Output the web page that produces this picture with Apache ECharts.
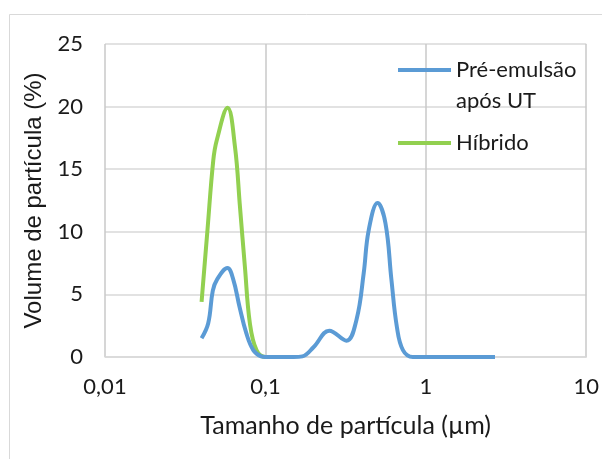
<!DOCTYPE html>
<html>
<head>
<meta charset="utf-8">
<script src="https://cdn.jsdelivr.net/npm/echarts@6/dist/echarts.min.js"></script>
<style>
  html, body { margin: 0; padding: 0; background: #fff; }
  #chart { width: 602px; height: 459px; }
</style>
</head>
<body>
<div id="chart"></div>
<script>
// Particle size distributions (size in µm, volume in %)
const seriesNames = ['Pré-emulsão após UT', 'Híbrido'];
const preEmulsaoSize = [0.040, 0.044, 0.047, 0.050, 0.058, 0.063, 0.069, 0.076, 0.084, 0.094, 0.10, 0.12, 0.15, 0.17, 0.20, 0.25, 0.32, 0.37, 0.41, 0.44, 0.50, 0.56, 0.61, 0.66, 0.72, 0.83, 1.2, 2.0, 2.7];
const preEmulsaoVol  = [1.5, 2.7, 5.3, 6.2, 7.1, 6.2, 4.0, 1.9, 0.55, 0.05, 0, 0, 0, 0.05, 0.8, 2.1, 1.3, 3.0, 6.7, 10.1, 12.3, 10.7, 6.2, 2.4, 0.55, 0, 0, 0, 0];
const hibridoSize = [0.040, 0.0435, 0.0473, 0.0497, 0.0581, 0.0646, 0.0694, 0.0745, 0.080, 0.088, 0.10, 0.12, 0.15];
const hibridoVol  = [4.4, 10.1, 15.7, 17.3, 19.9, 16.8, 12.0, 7.2, 2.7, 0.55, 0, 0, 0];
const xTicks = [0.01, 0.1, 1, 10];
const xTickLabels = ['0,01', '0,1', '1', '10'];
const yTicks = [0, 5, 10, 15, 20, 25];

const colors = ['#5b9bd5', '#92d050'];
const font = 'Lato, "Open Sans", sans-serif';
const textColor = '#1a1a1a';

const zip = (xs, ys) => xs.map((x, i) => [x, ys[i]]);

// nearest decade tick -> its label (log axis values can carry float noise)
function xLabel(v) {
  let best = 0;
  xTicks.forEach((t, i) => {
    if (Math.abs(Math.log10(t) - Math.log10(v)) < Math.abs(Math.log10(xTicks[best]) - Math.log10(v))) best = i;
  });
  return xTickLabels[best];
}

const chart = echarts.init(document.getElementById('chart'), null, { renderer: 'canvas' });
chart.setOption({
  animation: false,
  backgroundColor: '#fff',
  grid: { left: 105, right: 15, top: 44, bottom: 102, containLabel: false },
  xAxis: {
    type: 'log', logBase: 10, min: xTicks[0], max: xTicks[xTicks.length - 1],
    name: 'Tamanho de partícula (µm)', nameLocation: 'middle', nameGap: 56,
    nameTextStyle: { fontFamily: font, fontSize: 25, color: textColor },
    axisLine: { show: true, lineStyle: { color: '#d9d9d9', width: 1.5 } },
    axisTick: { show: false },
    axisLabel: { fontFamily: font, fontSize: 22, color: textColor, margin: 19, formatter: xLabel },
    splitLine: { show: true, lineStyle: { color: '#c8c8c8', width: 1.5 } }
  },
  yAxis: {
    type: 'value', min: yTicks[0], max: yTicks[yTicks.length - 1], interval: 5,
    name: 'Volume de partícula (%)', nameLocation: 'middle', nameGap: 58, nameRotate: 90,
    nameTextStyle: { fontFamily: '"Liberation Sans", Arial, sans-serif', fontSize: 24, color: textColor },
    axisLine: { show: false }, axisTick: { show: false },
    axisLabel: { fontFamily: font, fontSize: 22, color: textColor, margin: 22 },
    splitLine: { show: true, lineStyle: { color: '#d9d9d9', width: 1.5 } }
  },
  series: [
    {
      name: seriesNames[0], type: 'line', data: zip(preEmulsaoSize, preEmulsaoVol),
      smooth: 0.4, showSymbol: false, symbol: 'none',
      lineStyle: { color: colors[0], width: 4 }, z: 3
    },
    {
      name: seriesNames[1], type: 'line', data: zip(hibridoSize, hibridoVol),
      smooth: 0.4, showSymbol: false, symbol: 'none',
      lineStyle: { color: colors[1], width: 4 }, z: 2
    }
  ],
  graphic: [
    // frame around the chart
    { type: 'rect', shape: { x: 9.5, y: 14.5, width: 620, height: 480 },
      style: { fill: null, stroke: '#d9d9d9', lineWidth: 1 }, silent: true, z: -1 },
    // legend
    { type: 'line', shape: { x1: 398, y1: 70, x2: 451, y2: 70 }, style: { stroke: colors[0], lineWidth: 4 }, z: 10 },
    { type: 'text', x: 456, y: 70, style: { text: 'Pré-emulsão', font: '22px ' + font, fill: textColor, textVerticalAlign: 'middle' }, z: 10 },
    { type: 'text', x: 456, y: 101, style: { text: 'após UT', font: '22px ' + font, fill: textColor, textVerticalAlign: 'middle' }, z: 10 },
    { type: 'line', shape: { x1: 398, y1: 143, x2: 451, y2: 143 }, style: { stroke: colors[1], lineWidth: 4 }, z: 10 },
    { type: 'text', x: 456, y: 143, style: { text: 'Híbrido', font: '22px ' + font, fill: textColor, textVerticalAlign: 'middle' }, z: 10 }
  ]
});
</script>
</body>
</html>
